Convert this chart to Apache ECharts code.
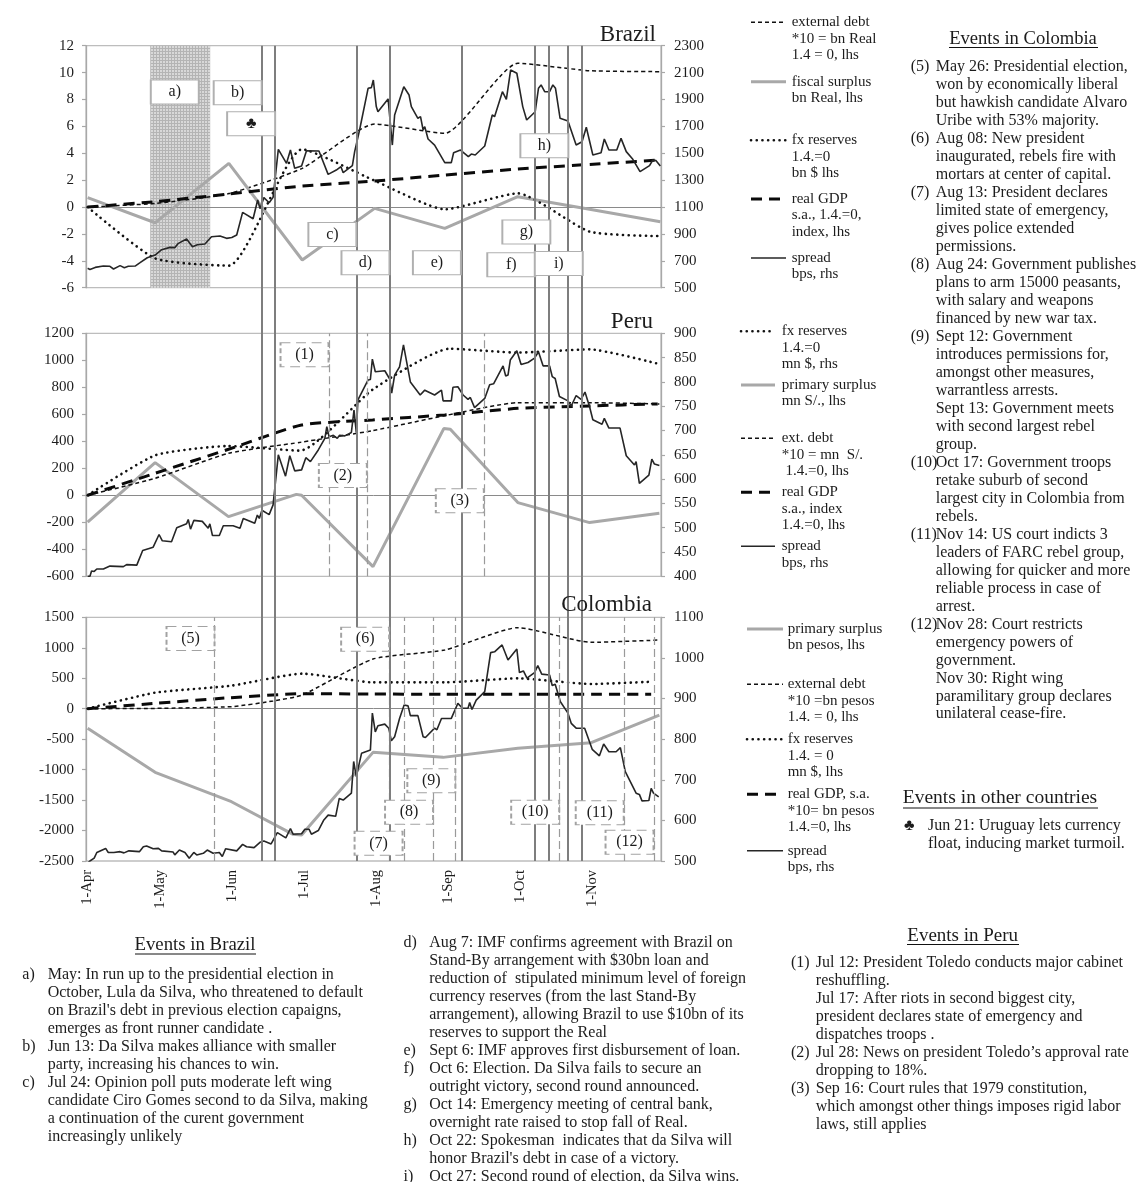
<!DOCTYPE html>
<html><head><meta charset="utf-8">
<script src="https://cdn.jsdelivr.net/npm/echarts@6/dist/echarts.min.js"></script>
<style>html,body{margin:0;padding:0;background:#fff}#c{width:1137px;height:1182px}</style>
</head><body><div id="c"></div>
<script>
// x values are trading-day indices counted from 1 April
const monthTicks = [0,22,44,66,88,110,132,154];
const monthLabels = ['1-Apr','1-May','1-Jun','1-Jul','1-Aug','1-Sep','1-Oct','1-Nov'];
const brazilRightTicks = [500,700,900,1100,1300,1500,1700,1900,2100,2300];

const brazilDebt = [[0,0],[20.6,0.27],[43.1,1.0],[65.5,2.88],[87.6,6.17],[109,5.48],[131.3,10.69],[153.2,10.14],[174.8,10.07]];
const brazilSurplus = [[0,0.7],[20.6,-1.17],[43.1,3.25],[65.5,-3.94],[87.6,-0.1],[109,-1.59],[131.3,0.77],[153.2,-0.17],[174.8,-1.09]];
const brazilFx = [[0,0],[20.6,-3.82],[43.1,-4.36],[65.5,4.29],[87.6,1.96],[109,-0.17],[131.3,1.02],[153.2,-1.83],[174,-2.16]];
const brazilGdp = [[0,0],[20.6,0.4],[43.1,0.97],[65.5,1.56],[87.6,1.93],[109,2.38],[131.3,2.83],[153.2,3.17],[174.8,3.5]];
const brazilSpread = [[0,644],[0.7,636],[2.3,651],[4.8,661],[6.8,659],[7.9,639],[9.9,664],[11.2,649],[12.4,659],[14.5,661],[16,686],[18.2,723],[20.6,743],[22.6,783],[25.1,800],[26.6,798],[27.7,830],[30.2,862],[32,805],[33.5,820],[35.8,825],[37.8,879],[40.4,884],[42.4,867],[44,874],[45.5,892],[47.3,1060],[50.5,1013],[51.9,1152],[52.6,1088],[53.8,1170],[55.4,1132],[56.6,1172],[58.2,1529],[60.7,1425],[61.9,1524],[63.2,1388],[65.3,1405],[66.8,1519],[70.6,1517],[73.4,1343],[75.9,1375],[77.3,1400],[78,1356],[80.8,1408],[81.5,1512],[83,1673],[85.6,1983],[86.6,1988],[87.2,2045],[88.1,1847],[88.6,1809],[91.7,1904],[93,1561],[93.7,1785],[96.5,1995],[98.1,1933],[98.8,1847],[100.8,1760],[101.6,1772],[102.4,1673],[102.9,1698],[103.9,1606],[105.9,1561],[109,1430],[111,1430],[111.7,1504],[113.8,1524],[116.2,1475],[117.1,1494],[118.3,1487],[121.2,1554],[123.5,1785],[124.2,1772],[126.6,1958],[127.8,1901],[129.1,2119],[131,2095],[132.8,1847],[134,1747],[136.6,1809],[137.6,1983],[138.4,2008],[139.5,1958],[141,1958],[142,2008],[142.8,1983],[144.2,1760],[146.6,1740],[149.1,1561],[150.9,1586],[152.2,1693],[154.2,1487],[156.7,1504],[157.7,1606],[159.1,1524],[161.5,1524],[162.8,1611],[164.4,1512],[166.4,1455],[168.6,1363],[171.5,1408],[172.5,1450],[173.5,1445],[174.8,1405]];

const peruSurplus = [[0,-198],[20.6,242],[43,-158],[63.7,7],[65.3,0],[87.1,-528],[108.7,494],[110.7,489],[131.3,-54],[153.2,-202],[174.5,-133]];
const peruFx = [[0,0],[20.6,296],[43,365],[64.8,331],[87.1,785],[110.5,1086],[131.3,1057],[153.2,1081],[173.5,978]];
const peruDebt = [[0,0],[20.6,126],[43,311],[65,393],[87,479],[109,590],[131.3,686],[153.2,686],[174.5,677]];
const peruGdp = [[0,0],[20.6,163],[43,341],[65.3,521],[87,558],[109,595],[131.3,644],[153.2,662],[174,677]];
const peruSpread = [[0,400],[0.7,400],[1.2,411],[2,410],[2.8,415],[4.8,415],[6.8,421],[10.9,420],[11.9,424],[15,423],[16.8,453],[20,460],[21.8,486],[22.8,473],[25.6,471],[27.2,500],[30.2,508],[30.7,517],[31.4,497],[32.4,515],[35,513],[36.8,499],[37.3,508],[38.1,484],[40.2,484],[41.4,504],[44.4,504],[46.5,499],[47.5,519],[51,509],[51.8,526],[52.4,519],[53.2,536],[55.4,527],[56.6,547],[58.2,650],[60.4,606],[61.7,648],[63.2,617],[65.3,619],[66.6,644],[68,636],[70.4,660],[72.4,684],[73,708],[73.7,687],[75,690],[76.2,684],[76.9,690],[78.5,689],[80.5,696],[81.3,742],[82,696],[82.5,763],[85.6,804],[86.3,805],[86.9,847],[87.8,821],[90.7,823],[92.2,806],[92.8,777],[93.7,814],[95.2,831],[96.4,876],[98.5,800],[101.5,773],[102.9,783],[105.9,773],[108,783],[108.5,761],[111,761],[111.5,789],[113,790],[114.6,773],[116.1,764],[116.8,768],[118.1,747],[121.2,766],[122.7,794],[123.9,796],[126.8,833],[127.6,812],[128.3,814],[129,845],[131,864],[132.3,836],[134.4,840],[136.4,849],[137.6,862],[139,833],[141,833],[141.8,811],[142.7,807],[144,770],[146.6,761],[147.6,750],[149.1,772],[150.6,764],[151.8,779],[153.2,749],[154.2,722],[157,713],[157.7,725],[159.1,705],[162.5,705],[164.4,648],[166.9,629],[167.4,636],[168.4,591],[171.3,608],[172.2,641],[173,631],[174.5,628]];

const colSurplus = [[0,-323],[20.6,-1045],[43.9,-1527],[62.7,-2063],[65.3,-2074],[87.1,-717],[108.5,-799],[131.3,-651],[153.7,-558],[174.5,-104]];
const colDebt = [[0,0],[20.6,5],[43.9,33],[56.6,126],[65.5,224],[87.1,815],[109,963],[131.3,1330],[153.7,1089],[174.5,1127]];
const colFx = [[0,0],[20.6,263],[43.9,378],[65.5,575],[87.1,432],[109,432],[131.3,498],[153.7,405],[172.5,443]];
const colGdp = [[0,0],[20.6,88],[43.5,180],[65.5,246],[87.1,241],[109,235],[131.3,235],[153.7,235],[172,235]];
const colSpread = [[0,495],[0.7,500],[2,507],[2.8,521],[5.5,531],[6.3,521],[6.8,525],[8,521],[9.9,523],[11.1,520],[12.6,525],[15.8,523],[17,535],[18,537],[20,530],[21.6,531],[22.6,525],[26.1,522],[26.6,515],[28,527],[29.7,521],[31,507],[32.4,521],[33.3,515],[35.3,519],[36.5,527],[38.3,519],[40.2,521],[41.1,511],[42.1,530],[45.5,525],[47.3,541],[48.5,535],[50.8,533],[52.6,546],[53.8,549],[56,542],[57.9,570],[60.5,557],[61.9,580],[62.7,566],[65.3,567],[66.3,578],[67.6,578],[68.3,566],[70.4,575],[72.1,601],[73.4,613],[75.7,610],[76.8,654],[78,650],[80.5,667],[81.2,745],[82,708],[83.6,765],[86.3,773],[86.9,864],[87.8,818],[88.6,833],[90.7,837],[91.9,827],[92.7,796],[93.7,806],[95.2,851],[96.6,884],[97.8,882],[98.5,858],[100.8,858],[102.4,806],[103.1,804],[105.9,827],[106.6,823],[108,851],[111,851],[113,888],[114.4,876],[116.1,876],[116.6,890],[117.3,873],[118.6,896],[121.2,917],[123,1013],[124.2,1015],[126.5,1032],[128.3,995],[131,1022],[131.8,964],[133,968],[134.1,950],[136.4,964],[137.4,981],[138.6,960],[141,958],[141.8,932],[142.7,935],[144.3,892],[146.6,864],[147.6,839],[149.1,827],[151.7,827],[154,775],[156.2,759],[157.5,788],[159.1,769],[161.3,769],[162.6,779],[164.1,720],[167.4,667],[168.4,664],[169.2,648],[171.3,649],[172,679],[172.7,667],[174.3,658]];

// event dates on the x scale
const brazilEventDays = [53.2,57.1,82.1,92.2,114.1,136.5,140.8,146.6,150.9];
const mayPeriod = [19.1,37.4];
const peruEventDays = [73.6,85.4,121];
const colEventDays = [38.6,92.2,96.5,105.6,112.3,144,163.8,173];

// annotation tags: name, day, left-axis value
const brazilTags = [['a)',26.6,8.55],['b)',45.8,8.5],['♣',49.9,6.2],['c)',74.7,-2.05],['d)',84.8,-4.15],['e)',106.6,-4.15],['f)',129.3,-4.3],['g)',133.9,-1.85],['h)',139.4,4.55],['i)',143.8,-4.2]];
const peruTags = [['(1)',66.2,1041],['(2)',77.9,147],['(3)',113.6,-41]];
const colTags = [['(5)',31.4,1152],['(6)',84.7,1139],['(7)',88.8,-2210],['(8)',98.1,-1699],['(9)',104.9,-1182],['(10)',136.6,-1699],['(11)',156.3,-1709],['(12)',165.4,-2193]];

const brazilLegend = [['debt',['external debt','*10 = bn Real','1.4 = 0, lhs']],['surplus',['fiscal surplus','bn Real, lhs']],['fx',['fx reserves','1.4.=0','bn $ lhs']],['gdp',['real GDP','s.a., 1.4.=0,','index, lhs']],['spread',['spread','bps, rhs']]];
const peruLegend = [['fx',['fx reserves','1.4.=0','mn $, rhs']],['surplus',['primary surplus','mn S/., lhs']],['debt',['ext. debt','*10 = mn  S/.',' 1.4.=0, lhs']],['gdp',['real GDP','s.a., index','1.4.=0, lhs']],['spread',['spread','bps, rhs']]];
const colLegend = [['surplus',['primary surplus','bn pesos, lhs']],['debt',['external debt','*10 =bn pesos','1.4. = 0, lhs']],['fx',['fx reserves','1.4. = 0','mn $, lhs']],['gdp',['real GDP, s.a.','*10= bn pesos','1.4.=0, lhs']],['spread',['spread','bps, rhs']]];

const colEvents = [['(5)','May 26: Presidential election,'],['','won by economically liberal'],['','but hawkish candidate Alvaro'],['','Uribe with 53% majority.'],['(6)','Aug 08: New president'],['','inaugurated, rebels fire with'],['','mortars at center of capital.'],['(7)','Aug 13: President declares'],['','limited state of emergency,'],['','gives police extended'],['','permissions.'],['(8)','Aug 24: Government publishes'],['','plans to arm 15000 peasants,'],['','with salary and weapons'],['','financed by new war tax.'],['(9)','Sept 12: Government'],['','introduces permissions for,'],['','amongst other measures,'],['','warrantless arrests.'],['','Sept 13: Government meets'],['','with second largest rebel'],['','group.'],['(10)','Oct 17: Government troops'],['','retake suburb of second'],['','largest city in Colombia from'],['','rebels.'],['(11)','Nov 14: US court indicts 3'],['','leaders of FARC rebel group,'],['','allowing for quicker and more'],['','reliable process in case of'],['','arrest.'],['(12)','Nov 28: Court restricts'],['','emergency powers of'],['','government.'],['','Nov 30: Right wing'],['','paramilitary group declares'],['','unilateral cease-fire.']];
const otherEvents = [['♣','Jun 21: Uruguay lets currency'],['','float, inducing market turmoil.']];
const brazilEventsA = [['a)','May: In run up to the presidential election in'],['','October, Lula da Silva, who threatened to default'],['',"on Brazil's debt in previous election capaigns,"],['','emerges as front runner candidate .'],['b)','Jun 13: Da Silva makes alliance with smaller'],['','party, increasing his chances to win.'],['c)','Jul 24: Opinion poll puts moderate left wing'],['','candidate Ciro Gomes second to da Silva, making'],['','a continuation of the curent government'],['','increasingly unlikely']];
const brazilEventsB = [['d)','Aug 7: IMF confirms agreement with Brazil on'],['','Stand-By arrangement with $30bn loan and'],['','reduction of  stipulated minimum level of foreign'],['','currency reserves (from the last Stand-By'],['','arrangement), allowing Brazil to use $10bn of its'],['','reserves to support the Real'],['e)','Sept 6: IMF approves first disbursement of loan.'],['f)','Oct 6: Election. Da Silva fails to secure an'],['','outright victory, second round announced.'],['g)','Oct 14: Emergency meeting of central bank,'],['','overnight rate raised to stop fall of Real.'],['h)','Oct 22: Spokesman  indicates that da Silva will'],['',"honor Brazil's debt in case of a victory."],['i)','Oct 27: Second round of election, da Silva wins.']];
const peruEvents = [['(1)','Jul 12: President Toledo conducts major cabinet'],['','reshuffling.'],['','Jul 17: After riots in second biggest city,'],['','president declares state of emergency and'],['','dispatches troops .'],['(2)','Jul 28: News on president Toledo’s approval rate'],['','dropping to 18%.'],['(3)','Sep 16: Court rules that 1979 constitution,'],['','which amongst other things imposes rigid labor'],['','laws, still applies']];

const FONT = '"Liberation Serif", serif';
const INK = '#1c1c1c';
const X_MIN = -0.5, X_MAX = 175;
const styles = {
  debt:{color:'#111',width:1.5,type:[4,3]},
  surplus:{color:'#a8a8a8',width:3,type:'solid'},
  fx:{color:'#111',width:2.6,type:[0.1,5.6],cap:'round'},
  gdp:{color:'#0a0a0a',width:3,type:[11,7]},
  spread:{color:'#262626',width:1.6,type:'solid'}
};
function mesh(){
  const c=document.createElement('canvas');c.width=3;c.height=3;
  const g=c.getContext('2d');g.fillStyle='#d8d8d8';g.fillRect(0,0,3,3);
  g.fillStyle='#b4b4b4';g.fillRect(0,0,3,1);g.fillRect(0,0,1,3);
  return c;
}
function lineSeries(name,data,key,x,y,smooth){
  const s=styles[key];
  return {name,type:'line',data,xAxisIndex:x,yAxisIndex:y,symbol:'none',silent:true,animation:false,z:3,smooth:smooth?0.18:false,
    lineStyle:{color:s.color,width:s.width,type:s.type,cap:s.cap||'butt'}};
}
function tagSeries(tags,x,y,dashed,days,extra){
  return Object.assign({type:'scatter',xAxisIndex:x,yAxisIndex:y,z:20,silent:true,animation:false,symbol:'rect',symbolSize:[48,24],
    data:tags.map(t=>({name:t[0],value:[t[1],t[2]]})),
    itemStyle:{color:'#fff',opacity:1,borderColor:dashed?'#a2a2a2':'#b0b0b0',borderWidth:1.4,borderType:dashed?[7,4]:'solid'},
    label:{show:true,position:'inside',formatter:p=>p.name,fontFamily:FONT,fontSize:16,color:INK},
    markLine:{silent:true,animation:false,symbol:'none',z:7,label:{show:false},
      lineStyle:{color:'#9a9a9a',width:1.2,type:[8,4]},
      data:days.map(d=>({xAxis:d}))}},extra||{});
}
function zeroLine(x,y){
  return {type:'line',xAxisIndex:x,yAxisIndex:y,data:[],silent:true,animation:false,
    markLine:{silent:true,animation:false,symbol:'none',z:2,label:{show:false},lineStyle:{color:'#8a8a8a',width:1,type:'solid'},data:[{yAxis:0}]}};
}
const grids=[[45.7,242],[333.3,243],[617.3,243.7],[45.7,815.3]].map(g=>({left:86,width:575,top:g[0],height:g[1],
  show:g[1]!==815.3,borderColor:'#bdbdbd',borderWidth:1.3,containLabel:false,outerBoundsMode:'none'}));
function xAxis(i,showLabels){
  return {type:'value',gridIndex:i,min:X_MIN,max:X_MAX,show:i!==3,splitLine:{show:false},axisTick:{show:false},
    axisLine:{show:false,onZero:false},
    axisLabel:{show:showLabels,customValues:monthTicks,rotate:90,margin:9,fontFamily:FONT,fontSize:14.5,color:INK,
      formatter:v=>monthLabels[monthTicks.indexOf(v)]||''}};
}
function yAxis(i,pos,min,max,interval,custom){
  const tick={show:true,length:4,lineStyle:{color:'#a8a8a8',width:1.2}};
  const label={margin:pos==='left'?12:13,fontFamily:FONT,fontSize:15,color:INK,align:pos==='left'?'right':'left',hideOverlap:false,formatter:v=>String(v)};
  const a={type:'value',gridIndex:i,position:pos,min,max,interval,splitLine:{show:false},
    axisLine:{show:true,onZero:false,lineStyle:{color:'#a8a8a8',width:1.3}},axisTick:tick,axisLabel:label};
  if(custom){a.axisLabel=Object.assign({},label,{customValues:custom});a.axisTick=Object.assign({},tick,{customValues:custom});}
  return a;
}
const series=[
  zeroLine(0,0),zeroLine(1,2),zeroLine(2,4),
  lineSeries('external debt',brazilDebt,'debt',0,0,true),
  lineSeries('fiscal surplus',brazilSurplus,'surplus',0,0),
  lineSeries('fx reserves',brazilFx,'fx',0,0,true),
  lineSeries('real GDP',brazilGdp,'gdp',0,0,true),
  lineSeries('spread',brazilSpread,'spread',0,1),
  lineSeries('fx reserves',peruFx,'fx',1,2,true),
  lineSeries('primary surplus',peruSurplus,'surplus',1,2),
  lineSeries('ext. debt',peruDebt,'debt',1,2,true),
  lineSeries('real GDP',peruGdp,'gdp',1,2,true),
  lineSeries('spread',peruSpread,'spread',1,3),
  lineSeries('primary surplus',colSurplus,'surplus',2,4),
  lineSeries('external debt',colDebt,'debt',2,4,true),
  lineSeries('fx reserves',colFx,'fx',2,4,true),
  lineSeries('real GDP, s.a.',colGdp,'gdp',2,4,true),
  lineSeries('spread',colSpread,'spread',2,5),
  {type:'line',xAxisIndex:3,yAxisIndex:6,data:[],silent:true,animation:false,
    markLine:{silent:true,animation:false,symbol:'none',z:8,label:{show:false},
      lineStyle:{color:'#7e7e7e',width:2,type:'solid'},data:brazilEventDays.map(d=>({xAxis:d}))}},
  tagSeries(brazilTags,0,0,false,[],{markArea:{silent:true,animation:false,z:1,itemStyle:{color:{image:mesh(),repeat:'repeat'}},
    data:[[{xAxis:mayPeriod[0]},{xAxis:mayPeriod[1]}]]}}),
  tagSeries(peruTags,1,2,true,peruEventDays),
  tagSeries(colTags,2,4,true,colEventDays)
];
const graphic=[];
function text(x,y,t,size,align){
  graphic.push({type:'text',x,y,silent:true,z:30,style:{text:t,font:size+'px '+FONT,fill:INK,align:align||'left',verticalAlign:'middle',textAlign:align||'left',textVerticalAlign:'middle'}});
}
function rule(x1,x2,y,s){
  graphic.push({type:'line',silent:true,z:30,shape:{x1,y1:y,x2,y2:y},style:Object.assign({stroke:'#111',lineWidth:1,fill:null},s||{})});
}
function block(rows,xMark,xText,y0,size){
  rows.forEach((r,i)=>{const y=y0+i*17.98;if(r[0])text(xMark,y,r[0],size);text(xText,y,r[1],size);});
}
function legend(rows,x1,x2,xText,ys){
  rows.forEach((r,i)=>{
    const s=styles[r[0]],y=ys[i];
    const dash=Array.isArray(s.type)?s.type:null;
    rule(x1,x2,y,{stroke:s.color,lineWidth:s.width,lineDash:dash,lineCap:s.cap||'butt'});
    r[1].forEach((t,j)=>text(xText,y+j*16.5,t,15));
  });
}
text(656,35,'Brazil',23,'right');
text(653,321.7,'Peru',23,'right');
text(652,605,'Colombia',23,'right');
legend(brazilLegend,751,786,791.7,[22.3,81.7,140.3,199,258]);
legend(peruLegend,741,775,781.7,[331.3,385,438.3,492.3,546.3]);
legend(colLegend,747,783,787.7,[629,684.3,739.3,794.3,850.7]);
text(1023,39,'Events in Colombia',18.6,'center');rule(949,1098,47.5);
block(colEvents,910.7,935.7,67,16);
text(1000,798,'Events in other countries',19.5,'center');rule(903,1098,808);
block(otherEvents,904,928,825.7,16);
text(195,945,'Events in Brazil',18.8,'center');rule(135,256,954);
block(brazilEventsA,22.3,47.7,975,16);
block(brazilEventsB,403.5,429.2,942.7,16);
text(962.7,935.7,'Events in Peru',19,'center');rule(907,1019,944.5);
block(peruEvents,791,815.8,962.7,16);

const chart=echarts.init(document.getElementById('c'),null,{renderer:'canvas'});
chart.setOption({animation:false,backgroundColor:'#fff',grid:grids,
  xAxis:[xAxis(0,false),xAxis(1,false),xAxis(2,true),xAxis(3,false)],
  yAxis:[yAxis(0,'left',-6,12,2),yAxis(0,'right',500,2300,200,brazilRightTicks),
    yAxis(1,'left',-600,1200,200),yAxis(1,'right',400,900,50),
    yAxis(2,'left',-2500,1500,500),yAxis(2,'right',500,1100,100),
    {type:'value',gridIndex:3,min:0,max:1,show:false,splitLine:{show:false}}],
  series,graphic});
</script></body></html>
